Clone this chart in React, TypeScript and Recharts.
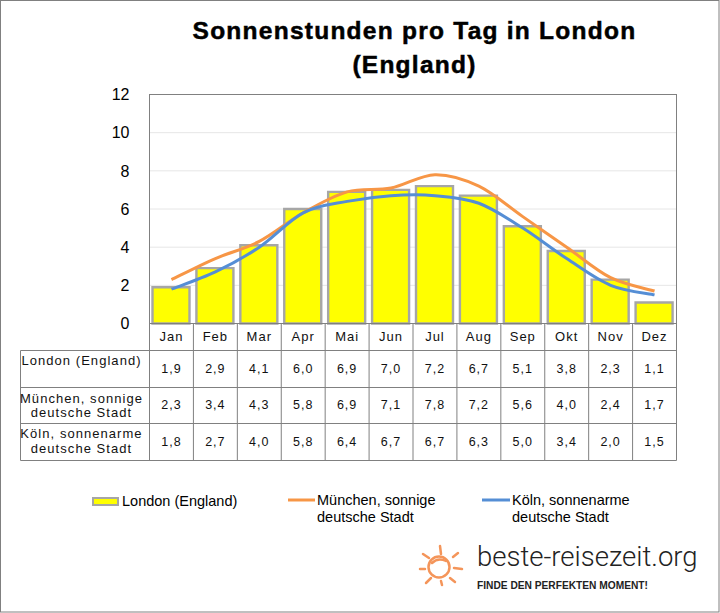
import React from "react";
import { ComposedChart, Bar, Line, XAxis, YAxis, CartesianGrid } from "recharts";

const months = ["Jan", "Feb", "Mar", "Apr", "Mai", "Jun", "Jul", "Aug", "Sep", "Okt", "Nov", "Dez"];
const london = [1.9, 2.9, 4.1, 6.0, 6.9, 7.0, 7.2, 6.7, 5.1, 3.8, 2.3, 1.1];
const muenchen = [2.3, 3.4, 4.3, 5.8, 6.9, 7.1, 7.8, 7.2, 5.6, 4.0, 2.4, 1.7];
const koeln = [1.8, 2.7, 4.0, 5.8, 6.4, 6.7, 6.7, 6.3, 5.0, 3.4, 2.0, 1.5];
const yTicks = [0, 2, 4, 6, 8, 10, 12];

const tableRows = [
  { values: london, label: ["London (England)"], labelY: [360], valueY: 369 },
  { values: muenchen, label: ["München, sonnige", "deutsche Stadt"], labelY: [398, 412], valueY: 405 },
  { values: koeln, label: ["Köln, sonnenarme", "deutsche Stadt"], labelY: [433.5, 448], valueY: 442 },
];

const data = months.map((month, i) => ({
  month,
  london: london[i],
  muenchen: muenchen[i],
  koeln: koeln[i],
}));

const font = "'Liberation Sans', Arial, sans-serif";
const PLOT_L = 149.5;
const PLOT_R = 676.5;
const PLOT_T = 94.5;
const PLOT_B = 323.5;
const COL = (PLOT_R - PLOT_L) / 12;
const rowLines = [350.5, 387.5, 423.5, 460.5];

// Excel style smoothing (uniform Catmull-Rom)
function excelSmooth(context: any) {
  let pts: [number, number][] = [];
  return {
    areaStart() {},
    areaEnd() {},
    lineStart() {
      pts = [];
    },
    point(x: number, y: number) {
      pts.push([+x, +y]);
    },
    lineEnd() {
      pts.forEach((p, i) => {
        if (i === 0) {
          context.moveTo(p[0], p[1]);
          return;
        }
        const p0 = pts[Math.max(i - 2, 0)];
        const p1 = pts[i - 1];
        const p3 = pts[Math.min(i + 1, pts.length - 1)];
        context.bezierCurveTo(
          p1[0] + (p[0] - p0[0]) / 6,
          p1[1] + (p[1] - p0[1]) / 6,
          p[0] - (p3[0] - p1[0]) / 6,
          p[1] - (p3[1] - p1[1]) / 6,
          p[0],
          p[1]
        );
      });
    },
  };
}

const fmt = (v: number) => v.toFixed(1).replace(".", ",");

function Overlay() {
  const cellText = { fontFamily: font, fontSize: 12.5, letterSpacing: 1, fill: "#111", textAnchor: "middle" as const, dominantBaseline: "central" as const };
  const labelText = { ...cellText, fontSize: 13, letterSpacing: 1.05 };
  const legendText = { fontFamily: font, fontSize: 14.5, fill: "#000", dominantBaseline: "central" as const };
  return (
    <svg width={720} height={613} style={{ position: "absolute", left: 0, top: 0, pointerEvents: "none" }}>
      <rect x={0.5} y={0.5} width={718.5} height={611.5} fill="none" stroke="#808080" />
      <g fontFamily={font} fontWeight={700} fontSize={24.5} letterSpacing={1.25} textAnchor="middle" fill="#000" stroke="#000" strokeWidth={0.5}>
        <text x={414.5} y={39}>Sonnenstunden pro Tag in London</text>
        <text x={414.5} y={73}>(England)</text>
      </g>

      <rect x={PLOT_L} y={PLOT_T} width={PLOT_R - PLOT_L} height={PLOT_B - PLOT_T} fill="none" stroke="#808080" />
      {months.map((_, i) => (
        <line key={i} x1={PLOT_L + COL * i} x2={PLOT_L + COL * i} y1={PLOT_B} y2={rowLines[3]} stroke="#808080" />
      ))}
      <line x1={PLOT_R} x2={PLOT_R} y1={PLOT_B} y2={rowLines[3]} stroke="#808080" />
      <line x1={20.5} x2={20.5} y1={rowLines[0]} y2={rowLines[3]} stroke="#808080" />
      {rowLines.map((y) => (
        <line key={y} x1={20.5} x2={PLOT_R} y1={y} y2={y} stroke="#808080" />
      ))}

      {tableRows.map((row, r) => (
        <g key={r}>
          {row.label.map((t, k) => (
            <text key={k} {...labelText} x={81.5} y={row.labelY[k]}>{t}</text>
          ))}
          {row.values.map((v, i) => (
            <text key={i} {...cellText} x={PLOT_L + COL * (i + 0.5)} y={row.valueY}>{fmt(v)}</text>
          ))}
        </g>
      ))}

      <rect x={93} y={498} width={25} height={7} fill="#ffff00" stroke="#a6a6a6" strokeWidth={2} />
      <text {...legendText} x={122} y={501}>London (England)</text>
      <line x1={288} x2={315} y1={500} y2={500} stroke="#f79646" strokeWidth={3} />
      <text {...legendText} x={317} y={500}>München, sonnige</text>
      <text {...legendText} x={317} y={517}>deutsche Stadt</text>
      <line x1={482} x2={510} y1={500} y2={500} stroke="#558ed5" strokeWidth={3} />
      <text {...legendText} x={512} y={500}>Köln, sonnenarme</text>
      <text {...legendText} x={512} y={517}>deutsche Stadt</text>

      <g stroke="#f4955a" strokeWidth={2.5} strokeLinecap="round" fill="none">
        <circle cx={439} cy={567} r={10.5} />
        <path d="M432 563 Q438 557 446 561" />
        <line x1={440} y1={546} x2={441} y2={554} />
        <line x1={453} y1={557} x2={458} y2={553} />
        <line x1={454} y1={568} x2={462} y2={569} />
        <line x1={450} y1={578} x2={455} y2={582} />
        <line x1={441} y1={581} x2={442} y2={585} />
        <line x1={431} y1={578} x2={426} y2={583} />
        <line x1={425} y1={569} x2={420} y2={569} />
        <line x1={429} y1={558} x2={423} y2={554} />
      </g>
      <text x={477} y={566} fontFamily="Roboto, Lato, sans-serif" fontWeight={300} fontSize={27.5} fill="#222">beste-reisezeit.org</text>
      <text x={477} y={589} fontFamily={font} fontWeight={700} fontSize={10.2} fill="#222">FINDE DEN PERFEKTEN MOMENT!</text>
    </svg>
  );
}

export default function App() {
  return (
    <div style={{ position: "absolute", left: 0, top: 0, width: 720, height: 613, background: "#fff" }}>
      <ComposedChart
        width={720}
        height={613}
        data={data}
        margin={{ top: PLOT_T, right: 720 - PLOT_R, bottom: 613 - PLOT_B - 27, left: PLOT_L - 60 }}
      >
        <CartesianGrid vertical={false} horizontal stroke="#e6e6e6" />
        <XAxis
          dataKey="month"
          height={27}
          axisLine={false}
          tickLine={false}
          interval={0}
          tick={{ fontFamily: font, fontSize: 13, fill: "#111", letterSpacing: 1 }}
        />
        <YAxis
          domain={[0, 12]}
          ticks={yTicks}
          width={60}
          axisLine={false}
          tickLine={false}
          tickMargin={14}
          tick={{ fontFamily: font, fontSize: 16, fill: "#000" }}
        />
        <Bar dataKey="london" barSize={37} fill="#ffff00" stroke="#a6a6a6" strokeWidth={2.4} isAnimationActive={false} />
        <Line dataKey="muenchen" type={excelSmooth as any} stroke="#f79646" strokeWidth={3} dot={false} isAnimationActive={false} />
        <Line dataKey="koeln" type={excelSmooth as any} stroke="#558ed5" strokeWidth={3} dot={false} isAnimationActive={false} />
      </ComposedChart>
      <Overlay />
    </div>
  );
}
